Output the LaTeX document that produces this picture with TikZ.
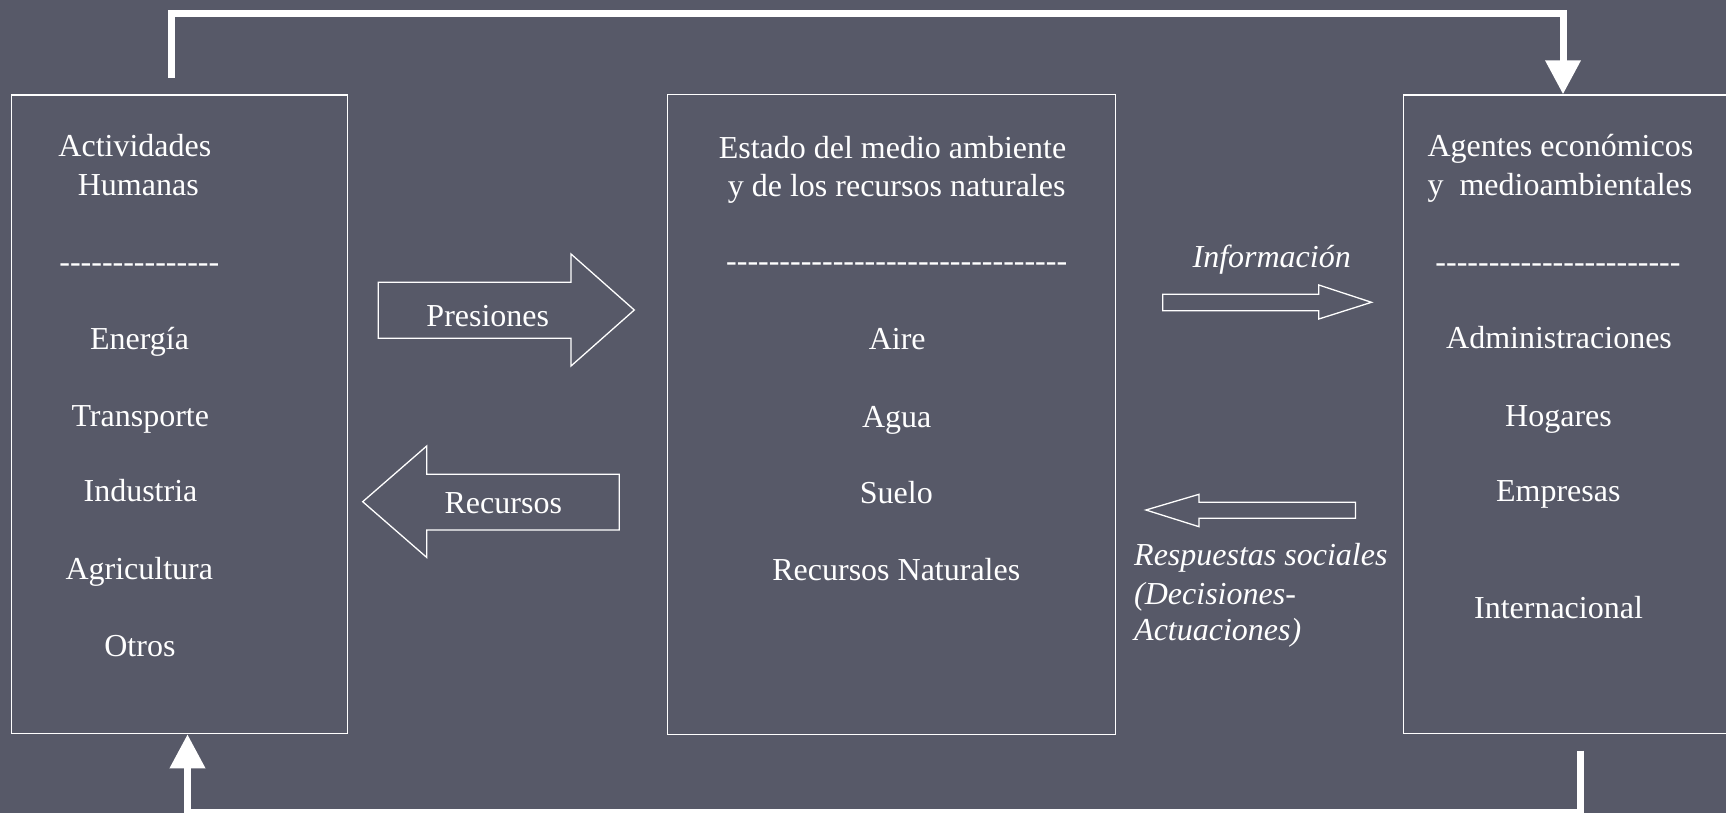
\documentclass[tikz,border=0pt]{standalone}
\usepackage{fontspec}
\setmainfont{Liberation Serif}
\usetikzlibrary{arrows.meta}
\definecolor{bgc}{RGB}{87,89,104}
\newcommand\hyph[1]{\foreach\k in {1,...,#1}{-\kern0pt}}
\begin{document}
\begin{tikzpicture}[x=1pt,y=-1pt,
  box/.style={draw=white,line width=1.3pt,inner sep=0pt,anchor=north west},
  txt/.style={text=white,inner sep=0pt,anchor=base,font=\fontsize{32}{38}\selectfont},
  itx/.style={text=white,inner sep=0pt,anchor=base,font=\fontsize{32}{38}\selectfont\itshape},
  blk/.style={draw=white,line width=1.3pt,line join=miter},
  conn/.style={draw=white,line width=7pt},
  tipend/.style={-{Triangle[length=34pt,width=34pt]}}
]
\useasboundingbox (0,0) rectangle (1726,813);
\clip (0,0) rectangle (1726,813);
\fill[bgc] (0,0) rectangle (1726,813);

% boxes
\node[box,minimum width=336.3pt,minimum height=638.5pt] (lbox) at (10.7,94.5) {};
\node[box,minimum width=448.3pt,minimum height=640pt] (mbox) at (666.7,94) {};
\node[box,minimum width=360pt,minimum height=638.7pt] (rbox) at (1402.6,94.3) {};

% left box text
\node[txt] (l1) at (134.9,156.7) {Actividades};
\node[txt] (l2) at (138.3,196) {Humanas};
\node[txt] (l3) at (139.3,272) {\hyph{15}};
\node[txt] (l4) at (139.5,349.3) {Energía};
\node[txt] (l5) at (140.3,426) {Transporte};
\node[txt] (l6) at (140.5,501.7) {Industria};
\node[txt] (l7) at (139.3,579) {Agricultura};
\node[txt] (l8) at (139.9,656) {Otros};

% middle box text
\node[txt] (m1) at (892.5,158.3) {Estado del medio ambiente};
\node[txt] (m2) at (896.7,196.7) {y de los recursos naturales};
\node[txt] (m3) at (896.7,271.5) {\hyph{32}};
\node[txt] (m4) at (897.2,349.3) {Aire};
\node[txt] (m5) at (896.7,427.3) {Agua};
\node[txt] (m6) at (896.3,503.3) {Suelo};
\node[txt] (m7) at (896.3,580) {Recursos Naturales};

% right box text
\node[txt,anchor=base west] (r1) at (1427.3,156.7) {Agentes económicos};
\node[txt,anchor=base west] (r2) at (1427.3,196) {y\ \ medioambientales};
\node[txt] (r3) at (1558,272) {\hyph{23}};
\node[txt] (r4) at (1559,348.3) {Administraciones};
\node[txt] (r5) at (1558.5,426) {Hogares};
\node[txt] (r6) at (1558.3,501.7) {Empresas};
\node[txt] (r7) at (1558.5,618.3) {Internacional};

% block arrows
\draw[blk] (378.3,282.3) -- (571,282.3) -- (571,254) -- (634.3,310) -- (571,366)
  -- (571,338.3) -- (378.3,338.3) -- cycle;
\node[txt] (pres) at (487.8,326.7) {Presiones};
\draw[blk] (362.7,501.7) -- (426.7,446) -- (426.7,474.3) -- (619.3,474.3) -- (619.3,530)
  -- (426.7,530) -- (426.7,557.4) -- cycle;
\node[txt] (recu) at (503.3,513.3) {Recursos};

\draw[blk] (1162.7,294.3) -- (1318.8,294.3) -- (1318.8,285) -- (1371.5,302.3) -- (1318.8,319)
  -- (1318.8,310.7) -- (1162.7,310.7) -- cycle;
\node[itx] (info) at (1271.7,267.7) {Información};
\draw[blk] (1145.9,510) -- (1199,494.3) -- (1199,502.3) -- (1355.5,502.3) -- (1355.5,518.3)
  -- (1199,518.3) -- (1199,526.7) -- cycle;
\node[itx,anchor=base west] (resp1) at (1134,565.7) {Respuestas sociales};
\node[itx,anchor=base west] (resp2) at (1134,604) {(Decisiones-};
\node[itx,anchor=base west] (resp3) at (1134,640.7) {Actuaciones)};

% connectors
\coordinate (ltop) at (171,78);
\coordinate (topy) at (0,14);
\coordinate (rtopx) at (1563,0);
\draw[conn,tipend] (ltop) -- (ltop |- topy) -| (rtopx |- rbox.north);

\coordinate (rbot) at (1580,750.5);
\coordinate (boty) at (0,812.5);
\coordinate (lbotx) at (187.5,0);
\draw[conn,tipend] (rbot) -- (rbot |- boty) -| (lbotx |- lbox.south);
\end{tikzpicture}
\end{document}
